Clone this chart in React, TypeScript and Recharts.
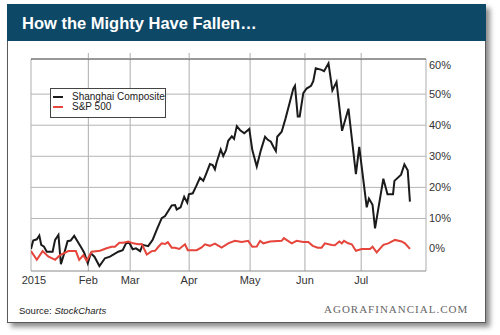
import { LineChart, Line, XAxis, YAxis, CartesianGrid, ReferenceLine, Legend } from "recharts";

// x = trading-day index since Jan 5 2015, y = % change since the start of the year
const shanghaiDays = [0, 0.8, 2.1, 3.0, 3.7, 4.7, 5.7, 7.8, 8.7, 9.9, 10.8, 12.0, 13.2, 14.3, 15.6, 17.1, 18.3, 19.2, 20.5, 21.6, 22.9, 24.7, 26.7, 28.5, 31.5, 33.1, 34.3, 35.5, 36.7, 37.9, 39.4, 40.3, 42.3, 43.9, 45.6, 47.2, 48.4, 49.6, 50.8, 52.0, 52.6, 54.0, 55.3, 56.4, 57.0, 58.4, 59.6, 61.0, 62.2, 63.2, 64.6, 65.6, 66.4, 67.0, 68.5, 69.4, 70.4, 71.2, 72.5, 73.3, 74.3, 75.5, 77.0, 78.8, 79.9, 81.5, 83.0, 84.5, 85.5, 86.6, 87.5, 88.4, 88.9, 90.5, 91.9, 93.5, 94.7, 95.3, 96.3, 97.0, 98.3, 99.5, 101.1, 101.9, 102.8, 104.9, 105.8, 107.4, 108.8, 110.3, 112.3, 114.6, 117.3, 118.5, 121.2, 122.0, 123.3, 124.2, 127.2, 128.7, 130.7, 131.2, 133.6, 134.8, 136.0, 136.8];
const shanghaiPct = [0.2, 2.9, 3.3, 4.5, 1.5, 0.9, -0.7, -0.7, 3.1, 4.7, -4.7, -1.2, 2.7, 2.9, 4.4, 2.2, 0.4, -1.0, -4.4, -1.2, -2.3, -5.3, -2.8, -2.3, -0.7, -0.2, 2.0, 2.2, 0.1, 0.4, -0.5, 1.5, 1.1, 3.1, 6.8, 10.1, 10.8, 12.5, 14.2, 14.3, 12.9, 13.6, 17.0, 15.1, 17.8, 18.1, 20.3, 23.1, 22.1, 24.3, 27.5, 27.2, 25.8, 28.0, 32.2, 30.1, 32.0, 35.0, 36.4, 35.6, 39.7, 38.4, 37.4, 38.8, 32.0, 26.7, 32.0, 36.3, 35.3, 34.7, 33.1, 31.7, 36.3, 37.9, 42.2, 47.6, 51.8, 52.7, 42.8, 42.8, 50.3, 51.8, 52.7, 54.2, 58.3, 57.8, 57.4, 59.9, 51.2, 53.9, 38.2, 45.3, 24.3, 33.0, 13.6, 16.4, 14.4, 6.8, 22.8, 17.8, 17.8, 22.1, 24.1, 27.4, 25.5, 15.4];

const spDays = [0, 2.1, 4.2, 6.2, 8.7, 10.5, 13.5, 16.2, 17.4, 18.9, 20.1, 21.9, 24.9, 27.3, 29.1, 30.3, 31.9, 33.3, 35.1, 36.9, 38.7, 40.0, 41.8, 43.6, 44.8, 46.0, 47.2, 48.4, 49.4, 50.8, 52.0, 53.5, 55.6, 56.6, 59.8, 61.6, 62.8, 64.6, 66.4, 68.8, 71.2, 73.6, 76.1, 78.4, 79.9, 81.5, 82.7, 83.9, 86.3, 90.5, 91.3, 94.1, 95.9, 98.3, 100.1, 101.7, 103.5, 104.9, 106.1, 108.6, 109.7, 111.3, 112.2, 113.0, 114.5, 115.8, 117.3, 119.4, 122.4, 123.3, 124.8, 127.2, 129.0, 131.4, 133.8, 135.0, 136.8];
const spPct = [-0.5, -3.3, -0.5, -2.2, -3.3, -1.8, -0.5, -0.5, -3.3, -1.8, -3.6, -0.7, -0.4, 0.4, 0.9, 0.9, 2.2, 2.2, 2.6, 2.0, 1.7, 1.8, -1.6, -0.5, -0.4, 0.9, 2.0, 1.8, 2.4, 0.6, 0.6, 0.2, 1.7, -0.2, -0.2, 0.7, 1.7, 1.2, 1.9, 0.6, 2.0, 2.8, 2.4, 2.8, 0.9, 1.0, 2.8, 2.0, 2.6, 2.8, 3.7, 2.0, 2.8, 2.4, 2.4, 1.2, 0.6, 0.6, 2.0, 1.5, 1.4, 2.6, 2.0, 2.8, 2.0, 1.7, -0.4, 0.2, 0.2, 0.9, -0.9, 1.5, 2.0, 3.1, 2.6, 2.0, 0.2];

const seriesNames = ["Shanghai Composite", "S&P 500"];
const monthTicks = [0, 20.7, 35.8, 57.1, 79.1, 98.9, 119.2];
const monthLabels = ["2015", "Feb", "Mar", "Apr", "May", "Jun", "Jul"];
const pctTicks = [0, 10, 20, 30, 40, 50, 60];
const pctGrid = [10, 20, 30, 40, 50];

const shanghaiData = shanghaiDays.map((day, i) => ({ day, pct: shanghaiPct[i] }));
const spData = spDays.map((day, i) => ({ day, pct: spPct[i] }));

const FONT = '"Liberation Sans", Arial, Helvetica, sans-serif';
const X_DOMAIN = [0, 142.6];
const Y_DOMAIN = [-6.9, 61.3];

function MonthTick({ x, y, payload, index }: any) {
  const label = monthLabels[monthTicks.indexOf(payload.value)];
  return (
    <text x={x + (index === 0 ? 3 : 0)} y={y} dy="0.71em" textAnchor="middle" fontSize={11} fill="#333" fontFamily={FONT}>
      {label}
    </text>
  );
}

function PctTick({ x, y, payload }: any) {
  // end labels sit slightly inside the frame in the original
  const nudge = payload.value === 60 ? 2 : payload.value === 0 ? -1.3 : 0;
  return (
    <text x={x} y={y + nudge} dy="0.355em" textAnchor="start" fontSize={11} fill="#333" fontFamily={FONT}>
      {payload.value}%
    </text>
  );
}

function NoTick() {
  return <g />;
}

function LegendBox({ payload }: any) {
  const items = [...(payload || [])].sort((a: any, b: any) => seriesNames.indexOf(a.value) - seriesNames.indexOf(b.value));
  return (
    <div style={{ boxSizing: "border-box", width: 116, height: 30, border: "1px solid #444", background: "#fff", padding: "3px 0 0 0" }}>
      {items.map((entry: any) => (
        <div key={entry.value} style={{ display: "flex", alignItems: "center", height: 10 }}>
          <span style={{ display: "inline-block", width: 10, height: 2, background: entry.color, marginLeft: 2, marginRight: 9 }} />
          <span style={{ fontSize: 10, lineHeight: "10px", color: "#222", fontFamily: FONT }}>{entry.value}</span>
        </div>
      ))}
    </div>
  );
}

export default function App() {
  return (
    <div style={{ position: "absolute", left: 0, top: 0, width: 500, height: 335, background: "#fff", overflow: "hidden" }}>
      <div
        style={{
          position: "absolute",
          left: 7,
          top: 4,
          width: 479,
          height: 319,
          boxSizing: "border-box",
          border: "1px solid #5a5a5a",
          borderTop: "none",
          background: "#fff",
          boxShadow: "4px 4px 5px rgba(0,0,0,0.45)",
        }}
      >
        <div style={{ height: 37, background: "#0d4867", marginLeft: -1, marginRight: -1 }} />
      </div>
      <div style={{ position: "absolute", left: 22, top: 14, lineHeight: "19px", fontSize: 16.5, fontWeight: 700, color: "#fff", fontFamily: FONT }}>
        How the Mighty Have Fallen…
      </div>
      <div style={{ position: "absolute", left: 19, top: 305, lineHeight: "12px", fontSize: 9.5, color: "#222", fontFamily: FONT }}>
        Source: <i>StockCharts</i>
      </div>
      <div style={{ position: "absolute", left: 324, top: 303, lineHeight: "13px", fontSize: 11, letterSpacing: 1, color: "#666", fontFamily: '"Liberation Serif", "Times New Roman", serif' }}>
        AGORAFINANCIAL.COM
      </div>
      <div style={{ position: "absolute", left: 0, top: 0 }}>
        <LineChart width={500} height={335} margin={{ top: 53, right: 34, bottom: 44, left: 31 }}>
          <CartesianGrid horizontal={false} stroke="#adadad" />
          {pctGrid.map((v) => (
            <ReferenceLine key={v} y={v} stroke="#b5b5b5" />
          ))}
          <XAxis
            dataKey="day"
            type="number"
            domain={X_DOMAIN}
            ticks={monthTicks}
            interval={0}
            allowDataOverflow
            height={20}
            axisLine={{ stroke: "#8a8a8a" }}
            tickLine={false}
            tickSize={3}
            tickMargin={2}
            tick={<MonthTick />}
          />
          <XAxis
            xAxisId="top"
            orientation="top"
            dataKey="day"
            type="number"
            domain={X_DOMAIN}
            ticks={monthTicks.slice(1)}
            interval={0}
            allowDataOverflow
            height={6}
            tickSize={6}
            axisLine={{ stroke: "#333" }}
            tickLine={{ stroke: "#adadad" }}
            tick={<NoTick />}
          />
          <YAxis
            orientation="right"
            type="number"
            domain={Y_DOMAIN}
            ticks={pctTicks}
            interval={0}
            allowDataOverflow
            width={40}
            axisLine={false}
            tickLine={false}
            tickSize={1}
            tickMargin={2}
            tick={<PctTick />}
          />
          <Legend
            layout="vertical"
            align="center"
            verticalAlign="middle"
            content={<LegendBox />}
            wrapperStyle={{ left: 50, top: 88, width: 116, height: 30 }}
          />
          <Line data={shanghaiData} dataKey="pct" name="Shanghai Composite" type="linear" stroke="#1b1b1b" strokeWidth={2} dot={false} activeDot={false} isAnimationActive={false} />
          <Line data={spData} dataKey="pct" name="S&P 500" type="linear" stroke="#e5453b" strokeWidth={2} dot={false} activeDot={false} isAnimationActive={false} />
        </LineChart>
      </div>
    </div>
  );
}
